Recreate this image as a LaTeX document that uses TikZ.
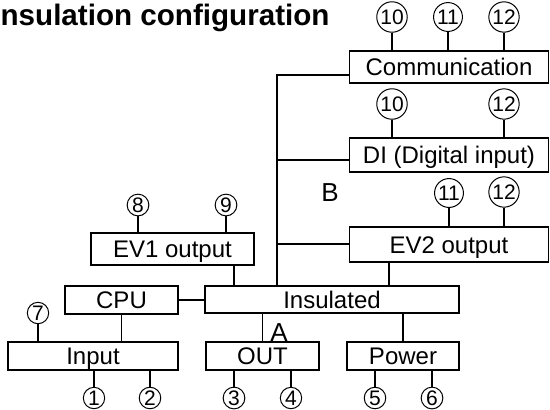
\documentclass[tikz,border=0pt]{standalone}
\usepackage{fontspec}
\setmainfont{Liberation Sans}
\usetikzlibrary{positioning}

\begin{document}
\begin{tikzpicture}[
    x=0.5pt, y=-0.5pt,
    blk/.style={draw, line width=0.65pt, inner sep=0pt, text height=8.6pt, text depth=0pt,
        font=\fontsize{12}{14}\selectfont},
    insblk/.style={blk, line width=1.4pt},
    pin/.style={circle, draw, line width=0.5pt, inner sep=0.5pt, font=\fontsize{10.5}{12}\selectfont},
    wire/.style={line width=0.55pt},
    zone/.style={font=\fontsize{13}{15}\selectfont, inner sep=0pt},
    ttl/.style={font=\fontsize{14.8}{17}\selectfont\bfseries, inner sep=0pt, anchor=base west},
]
\useasboundingbox (0,0) rectangle (550,409);
% --- title ---
\node[ttl] (title) at (-8,25) {Insulation configuration};
% --- blocks ---
\node[blk, minimum width=99.5pt, minimum height=16pt] (comm) at (449,67) {Communication};
\node[blk, minimum width=99.5pt, minimum height=17pt] (di) at (449,155) {DI (Digital input)};
\node[blk, minimum width=99.5pt, minimum height=17.5pt] (ev2) at (449,244.5) {EV2 output};
\node[blk, minimum width=81.5pt, minimum height=16pt] (ev1) at (172.5,249) {EV1 output};
\node[blk, minimum width=56.5pt, minimum height=14pt] (cpu) at (121.5,300) {CPU};
\node[insblk, minimum width=127pt, minimum height=13.5pt] (ins) at (332,299.5) {Insulated};
\node[blk, minimum width=85pt, minimum height=14pt] (inp) at (93,356) {Input};
\node[blk, minimum width=56.5pt, minimum height=14pt] (out) at (262.5,356) {OUT};
\node[blk, minimum width=56pt, minimum height=14pt] (power) at (403,356) {Power};
% --- zone labels ---
\node[zone] (zoneA) at (279,333) {A};
\node[zone] (zoneB) at (330,193) {B};
% --- terminals ---
\node[pin] (c10a) at (392,17) {10};
\node[pin] (c11a) at (448,17) {11};
\node[pin] (c12a) at (504,17) {12};
\node[pin] (c10b) at (392,104) {10};
\node[pin] (c12b) at (504,104) {12};
\node[pin] (c11c) at (449,193) {11};
\node[pin] (c12c) at (504,192) {12};
\node[pin] (c8) at (138,205) {8};
\node[pin] (c9) at (226,205) {9};
\node[pin] (c7) at (38,313) {7};
\foreach \n/\x in {1/94, 2/150, 3/234, 4/291, 5/375, 6/432} {
    \node[pin] (c\n) at (\x,398) {\n};
}
% --- terminal wires ---
\foreach \p/\b in {c10a/comm, c11a/comm, c12a/comm, c10b/di, c12b/di, c11c/ev2, c12c/ev2, c8/ev1, c9/ev1, c7/inp} {
    \draw[wire] (\p.south) -- (\p.south |- \b.north);
}
\foreach \p/\b in {c1/inp, c2/inp, c3/out, c4/out, c5/power, c6/power} {
    \draw[wire] (\p.north) -- (\p.north |- \b.south);
}
% --- bus on the insulated side ---
\coordinate (bus) at (277,75);
\coordinate (bdi) at (277,160);
\coordinate (bev2) at (277,244);
\draw[wire] (bus -| comm.west) -- (bus) -- (bus |- ins.north);
\draw[wire] (bdi) -- (bdi -| di.west);
\draw[wire] (bev2) -- (bev2 -| ev2.west);
% --- block links ---
\coordinate (ev1tap) at (234,0);
\coordinate (ev2tap) at (389,0);
\draw[wire] (ev1tap |- ev1.south) -- (ev1tap |- ins.north);
\draw[wire] (ev2tap |- ev2.south) -- (ev2tap |- ins.north);
\draw[wire] (cpu.east) -- (cpu.east -| ins.west);
\draw[wire] (cpu.south) -- (cpu.south |- inp.north);
\draw[wire] (out.north) -- (out.north |- ins.south);
\draw[wire] (power.north) -- (power.north |- ins.south);
\end{tikzpicture}
\end{document}
